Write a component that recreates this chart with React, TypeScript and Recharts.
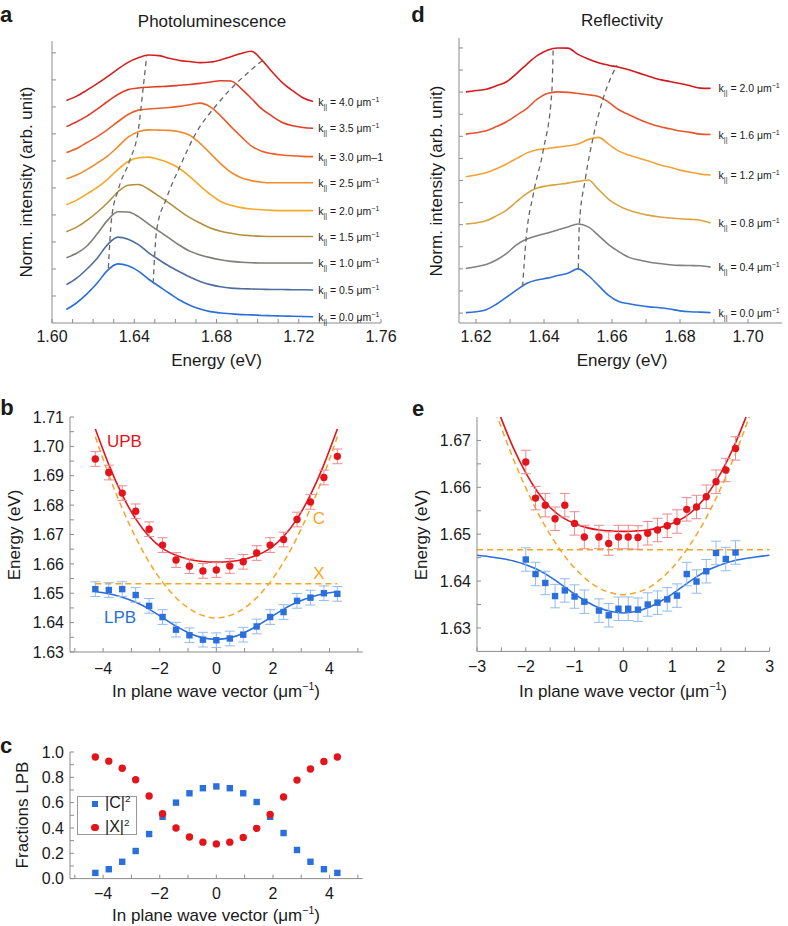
import React from 'react';
import { ComposedChart, Line, Scatter, XAxis, YAxis, ErrorBar } from 'recharts';

// ---------- panel a: photoluminescence spectra (offset waterfall) ----------
const plEnergy = [1.607, 1.612, 1.617, 1.622, 1.627, 1.632, 1.637, 1.642, 1.647, 1.652, 1.657, 1.662, 1.667,
  1.672, 1.677, 1.682, 1.687, 1.692, 1.697, 1.702, 1.707, 1.712, 1.717, 1.722, 1.727];
const plK = ['0.0', '0.5', '1.0', '1.5', '2.0', '2.5', '3.0', '3.5', '4.0'];
const plSupUnit = [true, true, true, true, true, true, false, true, true];
const plOffset = [0, 1, 2, 3, 4, 5, 6, 7, 8];
const plSpectra = [
  [0.50, 0.75, 1.08, 1.48, 1.95, 2.19, 2.12, 1.92, 1.62, 1.36, 1.10, 0.85, 0.66, 0.52, 0.42, 0.37, 0.34, 0.31, 0.30, 0.28, 0.27, 0.26, 0.25, 0.24, 0.23],
  [0.42, 0.66, 1.00, 1.40, 1.90, 2.18, 2.10, 1.90, 1.60, 1.34, 1.10, 0.90, 0.70, 0.54, 0.42, 0.34, 0.29, 0.27, 0.26, 0.25, 0.24, 0.24, 0.23, 0.23, 0.22],
  [0.42, 0.58, 0.85, 1.30, 1.80, 2.12, 2.11, 1.94, 1.66, 1.40, 1.14, 0.88, 0.66, 0.52, 0.42, 0.34, 0.28, 0.25, 0.23, 0.22, 0.22, 0.22, 0.22, 0.22, 0.22],
  [0.38, 0.55, 0.80, 1.10, 1.45, 1.85, 2.10, 2.13, 1.95, 1.70, 1.44, 1.16, 0.90, 0.70, 0.52, 0.40, 0.32, 0.26, 0.23, 0.21, 0.20, 0.20, 0.20, 0.20, 0.20],
  [0.38, 0.55, 0.78, 1.02, 1.32, 1.68, 1.98, 2.12, 2.14, 2.05, 1.92, 1.72, 1.42, 1.08, 0.76, 0.50, 0.36, 0.27, 0.22, 0.19, 0.17, 0.16, 0.16, 0.16, 0.16],
  [0.34, 0.48, 0.68, 0.92, 1.18, 1.52, 1.88, 2.08, 2.15, 2.14, 2.13, 2.08, 1.95, 1.65, 1.28, 0.90, 0.58, 0.38, 0.27, 0.21, 0.19, 0.19, 0.19, 0.19, 0.19],
  [0.31, 0.46, 0.68, 0.90, 1.16, 1.45, 1.72, 1.88, 1.92, 1.95, 1.98, 2.02, 2.08, 2.14, 2.00, 1.67, 1.27, 0.90, 0.55, 0.36, 0.27, 0.22, 0.19, 0.17, 0.16],
  [0.27, 0.45, 0.66, 0.92, 1.20, 1.46, 1.64, 1.70, 1.73, 1.75, 1.77, 1.80, 1.83, 1.87, 1.92, 1.97, 1.96, 1.68, 1.31, 0.93, 0.66, 0.42, 0.30, 0.24, 0.21],
  [0.24, 0.40, 0.62, 0.86, 1.12, 1.40, 1.65, 1.82, 1.92, 1.90, 1.80, 1.72, 1.68, 1.64, 1.66, 1.74, 1.86, 1.98, 2.06, 1.74, 1.30, 0.90, 0.60, 0.34, 0.20],
];
const plGuideLowE = [1.6274, 1.629, 1.6322, 1.6379, 1.642, 1.6444, 1.646];
const plGuideLowU = [2.03, 3.88, 4.93, 6.04, 7.15, 8.75, 9.86];
const plGuideHighE = [1.6492, 1.6509, 1.6557, 1.6622, 1.6695, 1.68, 1.6898, 1.7027];
const plGuideHighU = [1.47, 3.44, 4.62, 5.79, 6.96, 8.07, 8.88, 9.74];
const aTicksX = [1.60, 1.61, 1.62, 1.63, 1.64, 1.65, 1.66, 1.67, 1.68, 1.69, 1.70, 1.71, 1.72, 1.73, 1.74, 1.75, 1.76];
const aTicksY = [1, 2, 3, 4, 5, 6, 7, 8, 9, 10];

// ---------- panel d: reflectivity spectra ----------
const rfEnergy = [1.617, 1.620, 1.623, 1.626, 1.629, 1.632, 1.635, 1.638, 1.641, 1.644, 1.647, 1.650, 1.653,
  1.656, 1.659, 1.662, 1.665, 1.668, 1.671, 1.674, 1.677, 1.680, 1.683, 1.686, 1.689];
const rfK = ['0.0', '0.4', '0.8', '1.2', '1.6', '2.0'];
const rfOffset = [0, 2, 4, 6.15, 8.1, 10.05];
const rfSpectra = [
  [0.02, 0.06, 0.15, 0.40, 0.72, 1.05, 1.35, 1.50, 1.58, 1.70, 1.80, 2.00, 1.70, 1.25, 0.80, 0.52, 0.42, 0.34, 0.28, 0.24, 0.18, 0.10, 0.06, 0.04, 0.02],
  [0.02, 0.10, 0.20, 0.40, 0.70, 1.10, 1.35, 1.50, 1.62, 1.76, 1.90, 2.03, 1.90, 1.52, 1.10, 0.78, 0.52, 0.40, 0.30, 0.24, 0.19, 0.16, 0.15, 0.14, 0.08],
  [0.03, 0.08, 0.18, 0.40, 0.66, 1.05, 1.42, 1.66, 1.76, 1.82, 1.88, 1.96, 2.02, 1.60, 1.15, 0.85, 0.65, 0.52, 0.42, 0.35, 0.30, 0.27, 0.24, 0.20, 0.08],
  [0.02, 0.10, 0.20, 0.38, 0.60, 0.85, 1.10, 1.24, 1.30, 1.36, 1.42, 1.50, 1.70, 1.80, 1.50, 1.18, 1.00, 0.86, 0.72, 0.56, 0.45, 0.32, 0.22, 0.14, 0.10],
  [0.00, 0.06, 0.15, 0.34, 0.56, 0.86, 1.17, 1.58, 1.84, 1.91, 1.89, 1.84, 1.78, 1.70, 1.45, 1.10, 0.88, 0.66, 0.48, 0.34, 0.24, 0.14, 0.08, 0.00, -0.02],
  [-0.04, 0.02, 0.08, 0.24, 0.42, 0.80, 1.22, 1.60, 1.85, 1.95, 1.94, 1.66, 1.45, 1.28, 1.17, 1.08, 0.96, 0.81, 0.66, 0.52, 0.43, 0.34, 0.24, 0.13, 0.12],
];
const rfGuideLowE = [1.6337, 1.6347, 1.6369, 1.6398, 1.6423, 1.6427];
const rfGuideLowU = [1.19, 3.30, 5.42, 7.38, 10.01, 11.98];
const rfGuideHighE = [1.6501, 1.6504, 1.6521, 1.6545, 1.6574, 1.6614];
const rfGuideHighU = [2.02, 4.03, 6.02, 7.98, 9.71, 11.22];
const dTicksX = [1.62, 1.63, 1.64, 1.65, 1.66, 1.67, 1.68, 1.69, 1.70];
const dTicksY = [0, 1, 2, 3, 4, 5, 6, 7, 8, 9, 10, 11, 12];

// ---------- panel b: PL dispersion ----------
const bK = [-4.275, -3.8, -3.325, -2.85, -2.375, -1.9, -1.425, -0.95, -0.475, 0, 0.475, 0.95, 1.425, 1.9, 2.375, 2.85, 3.325, 3.8, 4.275];
const bUpb = [1.6957, 1.6911, 1.6841, 1.6779, 1.6718, 1.6664, 1.6613, 1.6592, 1.6576, 1.6579, 1.6593, 1.6607, 1.6637, 1.6664, 1.6683, 1.6751, 1.6811, 1.6894, 1.6966];
const bUpbErr = [0.0025, 0.0025, 0.0025, 0.0025, 0.0025, 0.0025, 0.0025, 0.0025, 0.0025, 0.0025, 0.0025, 0.0025, 0.0025, 0.0025, 0.0025, 0.0025, 0.0025, 0.0025, 0.0025];
const bLpb = [1.6514, 1.6511, 1.6514, 1.6494, 1.6457, 1.6419, 1.6376, 1.6357, 1.6342, 1.6340, 1.6346, 1.6359, 1.6387, 1.6419, 1.6436, 1.6474, 1.6485, 1.6500, 1.6498];
const bLpbErr = [0.0025, 0.0025, 0.0025, 0.0025, 0.0025, 0.0025, 0.0025, 0.0025, 0.0025, 0.0025, 0.0025, 0.0025, 0.0025, 0.0025, 0.0025, 0.0025, 0.0025, 0.0025, 0.0025];
const bUpbFit = [1.7059, 1.6938, 1.6835, 1.6753, 1.6693, 1.6653, 1.6629, 1.6615, 1.6608, 1.6606, 1.6608, 1.6615, 1.6629, 1.6653, 1.6693, 1.6753, 1.6835, 1.6938, 1.7059];
const bLpbFit = [1.6506, 1.6498, 1.6486, 1.6469, 1.6446, 1.6417, 1.6388, 1.6364, 1.6348, 1.6343, 1.6348, 1.6364, 1.6388, 1.6417, 1.6446, 1.6469, 1.6486, 1.6498, 1.6506];
const bCavity = [1.7033, 1.6903, 1.6789, 1.6690, 1.6606, 1.6538, 1.6485, 1.6447, 1.6424, 1.6416, 1.6424, 1.6447, 1.6485, 1.6538, 1.6606, 1.6690, 1.6789, 1.6903, 1.7033];
const bExcitonK = [-4.275, 4.275];
const bExciton = [1.6532, 1.6532];
const bTicksX = [-5, -4, -3, -2, -1, 0, 1, 2, 3, 4, 5];
const bTicksY = [1.63, 1.635, 1.64, 1.645, 1.65, 1.655, 1.66, 1.665, 1.67, 1.675, 1.68, 1.685, 1.69, 1.695, 1.70, 1.705, 1.71];

// ---------- panel e: reflectivity dispersion ----------
const eK = [-2.0, -1.8, -1.6, -1.4, -1.2, -1.0, -0.8, -0.5, -0.3, -0.1, 0.1, 0.3, 0.5, 0.7, 0.9, 1.1, 1.3, 1.5, 1.7, 1.9, 2.1, 2.3];
const eUpb = [1.6654, 1.6577, 1.6562, 1.6533, 1.6562, 1.6523, 1.6494, 1.6494, 1.6480, 1.6494, 1.6494, 1.6493, 1.6502, 1.6509, 1.6518, 1.6527, 1.6553, 1.6558, 1.6580, 1.6612, 1.6637, 1.6683];
const eUpbErr = [0.0025, 0.0025, 0.0025, 0.0025, 0.0025, 0.0025, 0.0025, 0.0025, 0.0025, 0.0025, 0.0025, 0.0025, 0.0025, 0.0025, 0.0025, 0.0025, 0.0025, 0.0025, 0.0025, 0.0025, 0.0025, 0.0025];
const eLpb = [1.6446, 1.6415, 1.6396, 1.6368, 1.6380, 1.6367, 1.6356, 1.6337, 1.6327, 1.6341, 1.6341, 1.6339, 1.6350, 1.6354, 1.6361, 1.6369, 1.6415, 1.6399, 1.6421, 1.6460, 1.6447, 1.6461];
const eLpbErr = [0.0025, 0.0025, 0.0025, 0.0025, 0.0025, 0.0025, 0.0025, 0.0025, 0.0025, 0.0025, 0.0025, 0.0025, 0.0025, 0.0025, 0.0025, 0.0025, 0.0025, 0.0025, 0.0025, 0.0025, 0.0025, 0.0025];
const eFitK = [-3, -2.75, -2.5, -2.25, -2, -1.75, -1.5, -1.25, -1, -0.75, -0.5, -0.25, 0, 0.25, 0.5, 0.75, 1, 1.25, 1.5, 1.75, 2, 2.25, 2.5, 2.75, 3];
const eUpbFit = [1.6895, 1.6816, 1.6746, 1.6683, 1.6631, 1.6589, 1.6557, 1.6536, 1.6523, 1.6514, 1.6509, 1.6507, 1.6506, 1.6507, 1.6509, 1.6514, 1.6523, 1.6536, 1.6557, 1.6589, 1.6631, 1.6683, 1.6746, 1.6816, 1.6895];
const eLpbFit = [1.6455, 1.6452, 1.6448, 1.6443, 1.6435, 1.6424, 1.6409, 1.6391, 1.6372, 1.6356, 1.6343, 1.6335, 1.6332, 1.6335, 1.6343, 1.6356, 1.6372, 1.6391, 1.6409, 1.6424, 1.6435, 1.6443, 1.6448, 1.6452, 1.6455];
const eCavity = [1.6883, 1.6801, 1.6727, 1.6659, 1.6599, 1.6545, 1.6499, 1.6460, 1.6428, 1.6403, 1.6385, 1.6375, 1.6371, 1.6375, 1.6385, 1.6403, 1.6428, 1.6460, 1.6499, 1.6545, 1.6599, 1.6659, 1.6727, 1.6801, 1.6883];
const eExcitonK = [-3, 3];
const eExciton = [1.6467, 1.6467];
const eTicksX = [-3, -2.5, -2, -1.5, -1, -0.5, 0, 0.5, 1, 1.5, 2, 2.5, 3];
const eTicksY = [1.63, 1.635, 1.64, 1.645, 1.65, 1.655, 1.66, 1.665, 1.67];

// ---------- panel c: Hopfield fractions of LPB ----------
const cPhoton = [0.045, 0.074, 0.133, 0.218, 0.352, 0.488, 0.600, 0.674, 0.714, 0.728, 0.714, 0.674, 0.605, 0.488, 0.360, 0.226, 0.133, 0.074, 0.045];
const cExciton = [0.960, 0.928, 0.872, 0.781, 0.653, 0.512, 0.400, 0.328, 0.288, 0.274, 0.288, 0.325, 0.397, 0.506, 0.645, 0.778, 0.866, 0.925, 0.960];
const cTicksY = [0, 0.1, 0.2, 0.3, 0.4, 0.5, 0.6, 0.7, 0.8, 0.9, 1.0];

// ---------- styling ----------
const FONT = '"Liberation Sans", Arial, Helvetica, sans-serif';
const INK = '#1a1a1a';
const FRAME = '#8c8c8c';
const RED = '#e3141c';
const RED_ERR = '#ec8a8e';
const BLUE = '#2a6fdc';
const BLUE_ERR = '#92bbee';
const ORANGE = '#f6a623';
const GUIDE = '#666666';
const plColors = ['#2b6fd9', '#4f6e9e', '#7f7d77', '#b38f3c', '#f4a927', '#f08a2a', '#e9602c', '#e03c28', '#d61f1f'];
const rfColors = ['#2f6fd8', '#808080', '#d9a43f', '#f2a233', '#e8542c', '#d4191e'];

type Rect = { l: number; t: number; r: number; b: number };
const YW = 50;
const XH = 40;
const PAD = 10;

const pts = (xs: number[], ys: number[], es?: number[]) => xs.map((x, i) => ({ x, y: ys[i], err: es ? es[i] : 0 }));
const minus = (v: number) => (v < 0 ? '\u2212' + Math.abs(v) : String(v));
const blank = () => '';

function axes(xDomain: number[], xTicks: number[], xFmt: (v: number) => string, xGap: number,
  yDomain: number[], yTicks: number[], yFmt: (v: number) => string) {
  const common = { stroke: FRAME, tickSize: -4, interval: 0 as const, allowDataOverflow: true };
  const tickStyle = { fill: INK, fontSize: 16, fontFamily: FONT };
  return [
    <XAxis key="xb" dataKey="x" type="number" domain={xDomain} ticks={xTicks} tickFormatter={xFmt}
      tick={tickStyle} tickMargin={xGap} height={XH} {...common} />,
    <XAxis key="xt" xAxisId="top" orientation="top" type="number" domain={xDomain} ticks={xTicks}
      tickFormatter={blank} tick={tickStyle} height={0} {...common} />,
    <YAxis key="yl" type="number" domain={yDomain} ticks={yTicks} tickFormatter={yFmt}
      tick={tickStyle} tickMargin={10} width={YW} {...common} />,
    <YAxis key="yr" yAxisId="right" orientation="right" type="number" domain={yDomain} ticks={yTicks}
      tickFormatter={blank} tick={tickStyle} width={0} {...common} />,
  ];
}

function Frame({ rect, data, padR = PAD, children }: { rect: Rect; data?: any[]; padR?: number; children: React.ReactNode }) {
  const w = rect.r - rect.l + YW + padR;
  const h = rect.b - rect.t + XH + PAD;
  return (
    <div style={{ position: 'absolute', left: rect.l - YW, top: rect.t - PAD }}>
      <ComposedChart width={w} height={h} data={data} margin={{ top: PAD, right: padR, bottom: 0, left: 0 }}>
        {children}
      </ComposedChart>
    </div>
  );
}

function Txt({ x, y, size = 17, color = INK, bold = false, rotate = false, anchor = 'middle', children }:
  { x: number; y: number; size?: number; color?: string; bold?: boolean; rotate?: boolean; anchor?: string; children: React.ReactNode }) {
  const tx = anchor === 'middle' ? '-50%' : '0';
  return (
    <div style={{
      position: 'absolute', left: x, top: y, fontFamily: FONT, fontSize: size, color,
      fontWeight: bold ? 700 : 400, whiteSpace: 'nowrap', lineHeight: 1,
      transform: `translate(${tx}, -50%)${rotate ? ' rotate(-90deg)' : ''}`,
    }}>
      {children}
    </div>
  );
}

const Sup = ({ children }: { children: React.ReactNode }) => (
  <sup style={{ fontSize: '0.62em', lineHeight: 0 }}>{children}</sup>
);

const endLabel = (kText: string, sup: boolean, last: number, gap: number) => (p: any) => {
  if (p.index !== last) return null;
  return (
    <text x={p.x + gap} y={p.y} dy={4} fontSize={10.5} fill={INK} fontFamily={FONT}>
      k<tspan fontSize={7} dy={3}>||</tspan>
      <tspan dy={-3}>{` = ${kText} \u03bcm`}</tspan>
      {sup ? <tspan fontSize={7} dy={-4}>{'\u22121'}</tspan> : <tspan>{'\u20131'}</tspan>}
    </text>
  );
};

const square = (color: string) => (p: any) => (
  <rect x={p.cx - 3.2} y={p.cy - 3.2} width={6.4} height={6.4} fill={color} />
);
const circle = (color: string) => (p: any) => <circle cx={p.cx} cy={p.cy} r={3.7} fill={color} />;

export default function App() {
  const plRows = plEnergy.map((x, i) => {
    const row: Record<string, number> = { x };
    plSpectra.forEach((s, j) => { row['s' + j] = s[i] + plOffset[j]; });
    return row;
  });
  const rfRows = rfEnergy.map((x, i) => {
    const row: Record<string, number> = { x };
    rfSpectra.forEach((s, j) => { row['s' + j] = s[i] + rfOffset[j]; });
    return row;
  });

  const aRect = { l: 52, t: 41, r: 381, b: 323 };
  const dRect = { l: 459, t: 38, r: 782, b: 323 };
  const bRect = { l: 70, t: 416.7, r: 362.7, b: 651.7 };
  const eRect = { l: 477.3, t: 417.3, r: 770, b: 651.7 };
  const cRect = { l: 70, t: 751.7, r: 362.7, b: 878.3 };

  const guide = { dataKey: 'y', stroke: GUIDE, strokeWidth: 1.3, strokeDasharray: '5 4', dot: false, type: 'monotone' as const, isAnimationActive: false };
  const dashedOrange = { dataKey: 'y', stroke: ORANGE, strokeWidth: 1.5, strokeDasharray: '6 4', dot: false, isAnimationActive: false };
  const wavevector = <>In plane wave vector (μm<Sup>−1</Sup>)</>;

  return (
    <div style={{ position: 'absolute', left: 0, top: 0, width: 788, height: 926, background: '#fff', overflow: 'hidden' }}>
      {/* a */}
      <Frame rect={aRect} data={plRows} padR={24}>
        {axes([1.60, 1.76], aTicksX, (v) => (Math.round(v * 100) % 4 === 0 ? v.toFixed(2) : ''), 12,
          [0, 10.44], aTicksY, blank)}
        {plSpectra.map((_, j) => (
          <Line key={'pl' + j} dataKey={'s' + j} type="monotone" stroke={plColors[j]} strokeWidth={1.6}
            dot={false} isAnimationActive={false}
            label={endLabel(plK[j], plSupUnit[j], plEnergy.length - 1, 5)} />
        ))}
        <Line data={pts(plGuideLowE, plGuideLowU)} {...guide} />
        <Line data={pts(plGuideHighE, plGuideHighU)} {...guide} />
      </Frame>

      {/* d */}
      <Frame rect={dRect} data={rfRows}>
        {axes([1.615, 1.71], dTicksX, (v) => (Math.round(v * 100) % 2 === 0 ? v.toFixed(2) : ''), 12,
          [-0.45, 12.45], dTicksY, blank)}
        {rfSpectra.map((_, j) => (
          <Line key={'rf' + j} dataKey={'s' + j} type="monotone" stroke={rfColors[j]} strokeWidth={1.6}
            dot={false} isAnimationActive={false}
            label={endLabel(rfK[j], true, rfEnergy.length - 1, 8)} />
        ))}
        <Line data={pts(rfGuideLowE, rfGuideLowU)} {...guide} />
        <Line data={pts(rfGuideHighE, rfGuideHighU)} {...guide} />
      </Frame>

      {/* b */}
      <Frame rect={bRect}>
        {axes([-5.17, 5.17], bTicksX, (v) => (v % 2 === 0 ? minus(v) : ''), 15,
          [1.63, 1.71], bTicksY, (v) => (Math.round(v * 1000) % 10 === 0 ? v.toFixed(2) : ''))}
        <Line data={pts(bExcitonK, bExciton)} {...dashedOrange} type="linear" />
        <Line data={pts(bK, bCavity)} {...dashedOrange} type="natural" />
        <Line data={pts(bK, bUpbFit)} dataKey="y" type="natural" stroke={RED} strokeWidth={1.6} dot={false} isAnimationActive={false} />
        <Line data={pts(bK, bLpbFit)} dataKey="y" type="natural" stroke={BLUE} strokeWidth={1.6} dot={false} isAnimationActive={false} />
        <Scatter data={pts(bK, bUpb, bUpbErr)} dataKey="y" shape={circle(RED)} isAnimationActive={false}>
          <ErrorBar dataKey="err" direction="y" width={5} stroke={RED_ERR} strokeWidth={1} />
        </Scatter>
        <Scatter data={pts(bK, bLpb, bLpbErr)} dataKey="y" shape={square(BLUE)} isAnimationActive={false}>
          <ErrorBar dataKey="err" direction="y" width={5} stroke={BLUE_ERR} strokeWidth={1} />
        </Scatter>
      </Frame>

      {/* e */}
      <Frame rect={eRect}>
        {axes([-3, 3], eTicksX, (v) => (Number.isInteger(v) ? minus(v) : ''), 13,
          [1.625, 1.675], eTicksY, (v) => (Math.round(v * 1000) % 10 === 0 ? v.toFixed(2) : ''))}
        <Line data={pts(eExcitonK, eExciton)} {...dashedOrange} type="linear" />
        <Line data={pts(eFitK, eCavity)} {...dashedOrange} type="natural" />
        <Line data={pts(eFitK, eUpbFit)} dataKey="y" type="natural" stroke={RED} strokeWidth={1.6} dot={false} isAnimationActive={false} />
        <Line data={pts(eFitK, eLpbFit)} dataKey="y" type="natural" stroke={BLUE} strokeWidth={1.6} dot={false} isAnimationActive={false} />
        <Scatter data={pts(eK, eUpb, eUpbErr)} dataKey="y" shape={circle(RED)} isAnimationActive={false}>
          <ErrorBar dataKey="err" direction="y" width={5} stroke={RED_ERR} strokeWidth={1} />
        </Scatter>
        <Scatter data={pts(eK, eLpb, eLpbErr)} dataKey="y" shape={square(BLUE)} isAnimationActive={false}>
          <ErrorBar dataKey="err" direction="y" width={5} stroke={BLUE_ERR} strokeWidth={1} />
        </Scatter>
      </Frame>

      {/* c */}
      <Frame rect={cRect}>
        {axes([-5.17, 5.17], bTicksX, (v) => (v % 2 === 0 ? minus(v) : ''), 13,
          [0, 1.0], cTicksY, (v) => (Math.round(v * 10) % 2 === 0 ? v.toFixed(1) : ''))}
        <Scatter data={pts(bK, cPhoton)} dataKey="y" shape={square(BLUE)} isAnimationActive={false} />
        <Scatter data={pts(bK, cExciton)} dataKey="y" shape={circle(RED)} isAnimationActive={false} />
      </Frame>

      {/* titles, panel letters and axis titles */}
      <Txt x={6} y={15} size={22} bold>a</Txt>
      <Txt x={418} y={15} size={22} bold>d</Txt>
      <Txt x={7} y={408} size={22} bold>b</Txt>
      <Txt x={418} y={409} size={22} bold>e</Txt>
      <Txt x={6} y={746} size={22} bold>c</Txt>

      <Txt x={212} y={21}>Photoluminescence</Txt>
      <Txt x={622} y={20}>Reflectivity</Txt>

      <Txt x={216.5} y={360}>Energy (eV)</Txt>
      <Txt x={26} y={182} rotate>Norm. intensity (arb. unit)</Txt>
      <Txt x={622} y={360}>Energy (eV)</Txt>
      <Txt x={436} y={181} rotate>Norm. intensity (arb. unit)</Txt>

      <Txt x={216} y={691}>{wavevector}</Txt>
      <Txt x={14} y={535} rotate>Energy (eV)</Txt>
      <Txt x={623} y={691}>{wavevector}</Txt>
      <Txt x={421} y={535} rotate>Energy (eV)</Txt>

      <Txt x={216} y={915}>{wavevector}</Txt>
      <Txt x={22} y={815} rotate>Fractions LPB</Txt>

      <Txt x={107} y={441} anchor="start" color={RED}>UPB</Txt>
      <Txt x={319} y={518} color={ORANGE}>C</Txt>
      <Txt x={319} y={573} color={ORANGE}>X</Txt>
      <Txt x={104} y={617} anchor="start" color={BLUE}>LPB</Txt>

      {/* legend of panel c */}
      <div style={{ position: 'absolute', left: 77, top: 796, width: 60, height: 39, border: '1px solid #9a9a9a', boxSizing: 'border-box' }}>
        <div style={{ position: 'absolute', left: 13.8, top: 3.5, width: 6.4, height: 6.4, background: BLUE }} />
        <div style={{ position: 'absolute', left: 13.3, top: 27, width: 7.4, height: 7.4, borderRadius: '50%', background: RED }} />
      </div>
      <Txt x={105} y={803} anchor="start" size={16}>|C|<Sup>2</Sup></Txt>
      <Txt x={105} y={827} anchor="start" size={16}>|X|<Sup>2</Sup></Txt>
    </div>
  );
}
